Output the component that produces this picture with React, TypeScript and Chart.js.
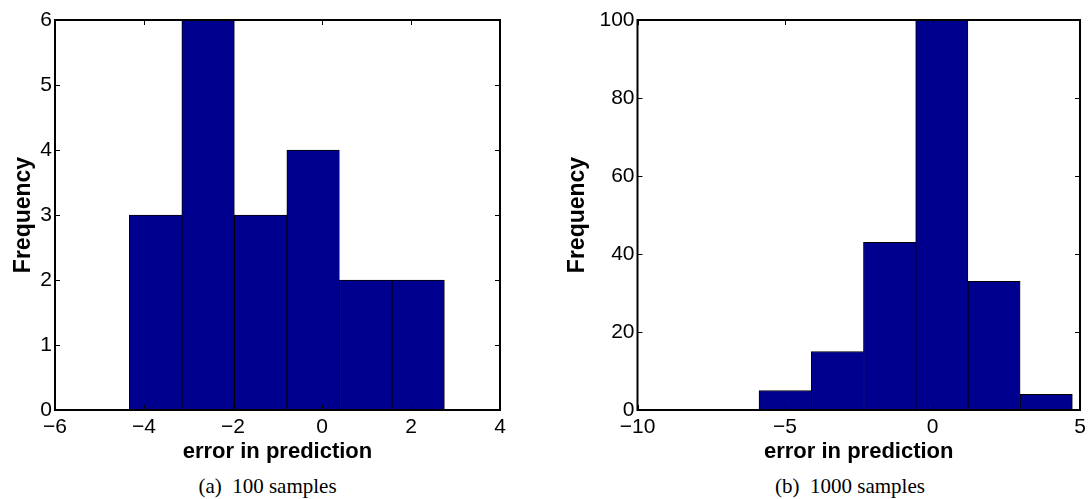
import React, { useEffect, useRef } from "react";
import { Chart, registerables } from "chart.js";

Chart.register(...registerables);

// (a) 100 samples: histogram bin centres and counts
const binCentersA = [-3.74, -2.56, -1.38, -0.2, 0.98, 2.16];
const countsA = [3, 6, 3, 4, 2, 2];
const xTicksA = [-6, -4, -2, 0, 2, 4];
const yTicksA = [0, 1, 2, 3, 4, 5, 6];

// (b) 1000 samples: histogram bin centres and counts
const binCentersB = [-4.995, -3.225, -1.455, 0.315, 2.085, 3.855];
const countsB = [5, 15, 43, 100, 33, 4];
const xTicksB = [-10, -5, 0, 5];
const yTicksB = [0, 20, 40, 60, 80, 100];

const xTitle = "error in prediction";
const yTitle = "Frequency";
const captionA = "(a)  100 samples";
const captionB = "(b)  1000 samples";

const SANS = "'Liberation Sans', Arial, Helvetica, sans-serif";
const SERIF = "'Liberation Serif', 'Times New Roman', serif";
const BAR_FILL = "rgb(0,0,143)";

const minusSign = (v: number) => String(v).replace("-", "\u2212");

// Box around the plot area with inward ticks on all four sides
const frameTicks = {
  id: "frameTicks",
  afterDraw(chart: any) {
    const { ctx, chartArea: a, scales } = chart;
    const len = 5;
    ctx.save();
    ctx.strokeStyle = "#000";
    ctx.lineWidth = 1;
    ctx.beginPath();
    scales.x.ticks.forEach((t: any) => {
      const px = Math.round(scales.x.getPixelForValue(t.value)) + 0.5;
      ctx.moveTo(px, a.bottom);
      ctx.lineTo(px, a.bottom - len);
      ctx.moveTo(px, a.top);
      ctx.lineTo(px, a.top + len);
    });
    scales.y.ticks.forEach((t: any) => {
      const py = Math.round(scales.y.getPixelForValue(t.value)) + 0.5;
      ctx.moveTo(a.left, py);
      ctx.lineTo(a.left + len, py);
      ctx.moveTo(a.right, py);
      ctx.lineTo(a.right - len, py);
    });
    ctx.stroke();
    ctx.lineWidth = 2;
    ctx.strokeRect(a.left, a.top, a.right - a.left, a.bottom - a.top);
    ctx.restore();
  },
};

type HistProps = {
  centers: number[];
  counts: number[];
  xTicks: number[];
  yTicks: number[];
  left: number;
  width: number;
  height: number;
  yAxisWidth: number;
  padRight: number;
};

function Histogram(p: HistProps) {
  const ref = useRef<HTMLCanvasElement | null>(null);

  useEffect(() => {
    if (!ref.current) return;
    const last = p.counts.length - 1;
    const chart = new Chart(ref.current, {
      type: "bar",
      data: {
        datasets: [
          {
            data: p.centers.map((x, i) => ({ x, y: p.counts[i] })),
            backgroundColor: BAR_FILL,
            borderColor: "#000",
            borderWidth: (c: any) => ({
              top: 1,
              left: 1,
              bottom: 0,
              right: c.dataIndex === last ? 1 : 0.6,
            }),
            borderSkipped: false,
            barPercentage: 1,
            categoryPercentage: 1,
          },
        ],
      },
      options: {
        responsive: false,
        maintainAspectRatio: false,
        animation: false,
        devicePixelRatio: 1,
        layout: { padding: { top: 20, right: p.padRight, left: 0, bottom: 0 } },
        plugins: { legend: { display: false }, tooltip: { enabled: false } },
        scales: {
          x: {
            type: "linear",
            offset: false,
            min: p.xTicks[0],
            max: p.xTicks[p.xTicks.length - 1],
            grid: { display: false, drawTicks: false, offset: false },
            border: { display: false },
            afterBuildTicks: (s: any) => {
              s.ticks = p.xTicks.map((v) => ({ value: v }));
            },
            afterFit: (s: any) => {
              s.height = 60;
            },
            ticks: {
              color: "#000",
              padding: 5,
              maxRotation: 0,
              autoSkip: false,
              font: { family: SANS, size: 21 },
              callback: (v: any) => minusSign(Number(v)),
            },
            title: {
              display: true,
              text: xTitle,
              color: "#000",
              padding: { top: 0, bottom: 5 },
              font: { family: SANS, size: 22, weight: "bold" },
            },
          },
          y: {
            type: "linear",
            min: p.yTicks[0],
            max: p.yTicks[p.yTicks.length - 1],
            grid: { display: false, drawTicks: false },
            border: { display: false },
            afterBuildTicks: (s: any) => {
              s.ticks = p.yTicks.map((v) => ({ value: v }));
            },
            afterFit: (s: any) => {
              s.width = p.yAxisWidth;
            },
            ticks: {
              color: "#000",
              padding: 3,
              autoSkip: false,
              font: { family: SANS, size: 21 },
              callback: (v: any) => minusSign(Number(v)),
            },
            title: {
              display: true,
              text: yTitle,
              color: "#000",
              padding: { top: 10, bottom: 0 },
              font: { family: SANS, size: 23, weight: "bold" },
            },
          },
        },
      },
      plugins: [frameTicks],
    } as any);
    return () => chart.destroy();
  }, []);

  return (
    <canvas
      ref={ref}
      width={p.width}
      height={p.height}
      style={{ position: "absolute", left: p.left, top: 0, width: p.width, height: p.height }}
    />
  );
}

function Caption({ text, center }: { text: string; center: number }) {
  return (
    <div
      style={{
        position: "absolute",
        left: center - 200,
        width: 400,
        top: 474,
        textAlign: "center",
        fontFamily: SERIF,
        fontSize: 21,
        whiteSpace: "pre",
        color: "#000",
      }}
    >
      {text}
    </div>
  );
}

export default function App() {
  return (
    <div
      style={{
        position: "absolute",
        left: 0,
        top: 0,
        width: 1091,
        height: 499,
        background: "#fff",
        overflow: "hidden",
      }}
    >
      <Histogram
        centers={binCentersA}
        counts={countsA}
        xTicks={xTicksA}
        yTicks={yTicksA}
        left={0}
        width={545}
        height={470}
        yAxisWidth={55}
        padRight={45}
      />
      <Histogram
        centers={binCentersB}
        counts={countsB}
        xTicks={xTicksB}
        yTicks={yTicksB}
        left={554}
        width={537}
        height={470}
        yAxisWidth={83.5}
        padRight={11}
      />
      <Caption text={captionA} center={267.5} />
      <Caption text={captionB} center={850} />
    </div>
  );
}
